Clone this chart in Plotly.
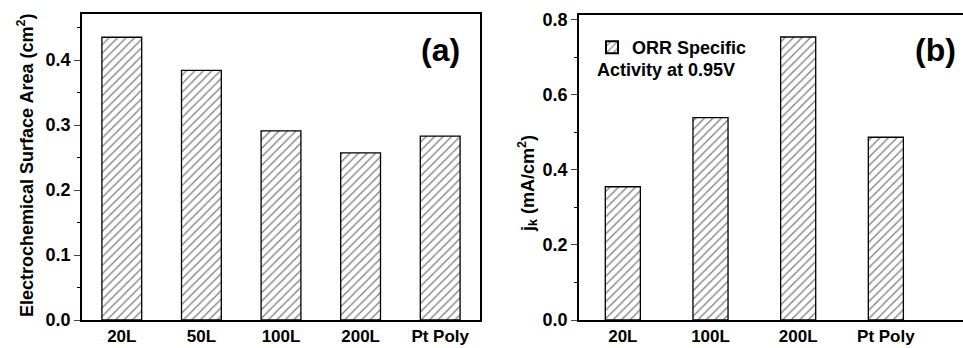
import plotly.graph_objects as go

cats_a = ["20L", "50L", "100L", "200L", "Pt Poly"]
esa = [0.435, 0.384, 0.291, 0.257, 0.283]

cats_b = ["20L", "100L", "200L", "Pt Poly"]
jk = [0.355, 0.539, 0.754, 0.487]

FONT = "Liberation Sans, Arial, sans-serif"
W, H = 963, 348

pattern = dict(shape="/", size=6, solidity=0.22, fgcolor="black", bgcolor="white", fillmode="overlay")

fig = go.Figure()
fig.add_trace(go.Bar(x=cats_a, y=esa, width=0.5, xaxis="x", yaxis="y",
                     marker=dict(color="white", line=dict(color="black", width=1.3), pattern=pattern),
                     showlegend=False))
fig.add_trace(go.Bar(x=cats_b, y=jk, width=0.4, xaxis="x2", yaxis="y2",
                     name="ORR Specific",
                     marker=dict(color="white", line=dict(color="black", width=1.3), pattern=pattern),
                     showlegend=True))

def px_x(p):
    return p / W

def px_y(p):
    return 1 - p / H

common = dict(showgrid=False, zeroline=False, linecolor="black", linewidth=1.5)
yfont = dict(family=FONT, size=18, color="black", weight="bold")
xfont = dict(family=FONT, size=17, color="black", weight="bold")

fig.update_layout(
    width=W, height=H,
    margin=dict(l=0, r=0, t=0, b=0, autoexpand=False),
    paper_bgcolor="white", plot_bgcolor="white",
    xaxis=dict(domain=[px_x(82), px_x(480)], range=[-0.5, 4.5], type="category",
               anchor="y", mirror=True, ticks="", ticklen=0, ticklabelstandoff=0,
               tickfont=xfont, **common),
    yaxis=dict(domain=[px_y(320), px_y(14)], range=[0, 0.4708], anchor="x",
               mirror=True, ticks="outside", ticklen=6, tickwidth=1, dtick=0.1,
               tickformat=".1f", tickfont=yfont,
               minor=dict(ticks="outside", ticklen=3, dtick=0.05, tickcolor="black"),
               **common),
    xaxis2=dict(domain=[px_x(579), 1.0], range=[-0.5, 3.88], type="category",
                anchor="y2", mirror=True, ticks="", ticklen=0, ticklabelstandoff=0,
                tickfont=xfont, **common),
    yaxis2=dict(domain=[px_y(320), px_y(14.5)], range=[0, 0.814], anchor="x2",
                mirror=False, ticks="outside", ticklen=6, tickwidth=1, dtick=0.2,
                tickformat=".1f", tickfont=yfont,
                minor=dict(ticks="outside", ticklen=3, dtick=0.1, tickcolor="black"),
                **common),
    legend=dict(x=px_x(592), y=px_y(29), xanchor="left", yanchor="top",
                bgcolor="rgba(0,0,0,0)", borderwidth=0,
                font=dict(family=FONT, size=18, color="black", weight="bold"),
                itemsizing="constant", tracegroupgap=0),
)

fig.add_annotation(text="Electrochemical Surface Area (cm<sup>2</sup>)", textangle=-90,
                   x=px_x(25), y=px_y(165), xref="paper", yref="paper", showarrow=False,
                   xanchor="center", yanchor="middle",
                   font=dict(family=FONT, size=18, color="black", weight="bold"))
fig.add_annotation(text="j<sub>k</sub> (mA/cm<sup>2</sup>)", textangle=-90,
                   x=px_x(527), y=px_y(184), xref="paper", yref="paper", showarrow=False,
                   xanchor="center", yanchor="middle",
                   font=dict(family=FONT, size=18, color="black", weight="bold"))
fig.add_annotation(text="(a)", x=px_x(440), y=px_y(50), xref="paper", yref="paper",
                   xanchor="center", yanchor="middle",
                   showarrow=False, font=dict(family=FONT, size=32, color="black", weight="bold"))
fig.add_annotation(text="(b)", x=px_x(935), y=px_y(50), xref="paper", yref="paper",
                   xanchor="center", yanchor="middle",
                   showarrow=False, font=dict(family=FONT, size=32, color="black", weight="bold"))
fig.add_annotation(text="Activity at 0.95V", x=px_x(595), y=px_y(70), xref="paper", yref="paper",
                   xanchor="left", yanchor="middle", showarrow=False,
                   font=dict(family=FONT, size=18, color="black", weight="bold"))

fig.write_html("out.html")
